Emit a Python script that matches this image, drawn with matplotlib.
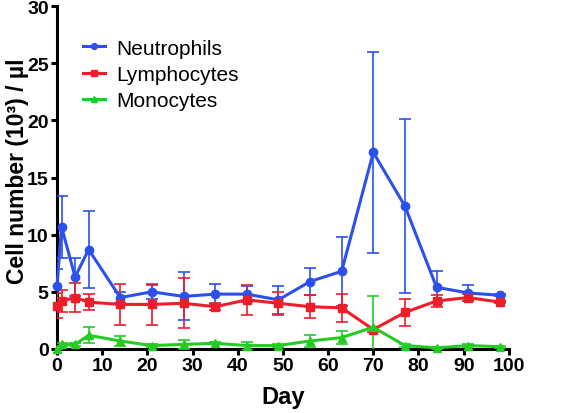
import numpy as np
import matplotlib.pyplot as plt

plt.rcParams['font.family'] = ['Liberation Sans', 'DejaVu Sans']

days = [0, 1, 4, 7, 14, 21, 28, 35, 42, 49, 56, 63, 70, 77, 84, 91, 98]

neutro = [5.5, 10.7, 6.3, 8.7, 4.5, 5.0, 4.6, 4.8, 4.8, 4.3, 5.9, 6.8, 17.2, 12.5, 5.4, 4.9, 4.7]
neutro_err = [1.5, 2.7, 1.7, 3.4, 0.5, 0.6, 2.1, 0.9, 0.7, 1.2, 1.2, 3.0, 8.8, 7.6, 1.4, 0.7, 0.1]

lympho = [3.8, 4.2, 4.5, 4.1, 3.9, 3.9, 4.0, 3.7, 4.3, 4.0, 3.7, 3.6, 1.7, 3.2, 4.2, 4.5, 4.1]
lympho_err = [1.1, 1.0, 1.3, 0.7, 1.8, 1.8, 2.2, 0.3, 1.3, 1.0, 1.0, 1.2, 0.2, 1.2, 0.5, 0.3, 0.1]

mono = [0.0, 0.4, 0.4, 1.2, 0.7, 0.3, 0.4, 0.5, 0.3, 0.3, 0.7, 1.0, 1.9, 0.3, 0.1, 0.3, 0.2]
mono_err = [0.1, 0.1, 0.1, 0.7, 0.4, 0.1, 0.4, 0.1, 0.35, 0.1, 0.5, 0.6, 2.7, 0.1, 0.1, 0.1, 0.1]

fig = plt.figure(figsize=(5.66, 4.14), dpi=100)
ax = fig.add_axes([0.1007, 0.1546, 0.7983, 0.8284])

series = [
    (neutro, neutro_err, '#2B50EC', 'o', 'Neutrophils'),
    (lympho, lympho_err, '#EE1D2A', 's', 'Lymphocytes'),
    (mono, mono_err, '#22CC22', '^', 'Monocytes'),
]
handles = []
labels = []
for vals, err, col, mk, lab in series:
    line, caps, bars = ax.errorbar(days, vals, yerr=err, color=col, marker=mk, markersize=6,
                                   linewidth=2.2, elinewidth=1.2, capsize=4, capthick=1.2,
                                   zorder=3)
    line.set_clip_on(False)
    handles.append(line)
    labels.append(lab)

ax.set_xlim(0, 100)
ax.set_ylim(0, 30)
ax.set_xticks(np.arange(0, 101, 10))
ax.set_yticks(np.arange(0, 31, 5))
for s in ['top', 'right']:
    ax.spines[s].set_visible(False)
for s in ['left', 'bottom']:
    ax.spines[s].set_linewidth(2.2)
ax.tick_params(width=2.2, length=4.5, labelsize=14, pad=1.5)
for t in ax.get_xticklabels() + ax.get_yticklabels():
    t.set_fontweight('bold')

ax.set_xlabel('Day', fontsize=17, fontweight='bold', labelpad=8)
ax.set_ylabel('Cell number (10³) / µl', fontsize=16.5, fontweight='bold')
ax.yaxis.set_label_coords(-0.062, 0.52)

leg = ax.legend(handles, labels, loc='upper left', bbox_to_anchor=(0.015, 0.96), frameon=False,
                fontsize=15, markerscale=0.7, handlelength=1.1, labelspacing=0.35,
                handletextpad=0.5)

fig.savefig('out.png', dpi=100)
